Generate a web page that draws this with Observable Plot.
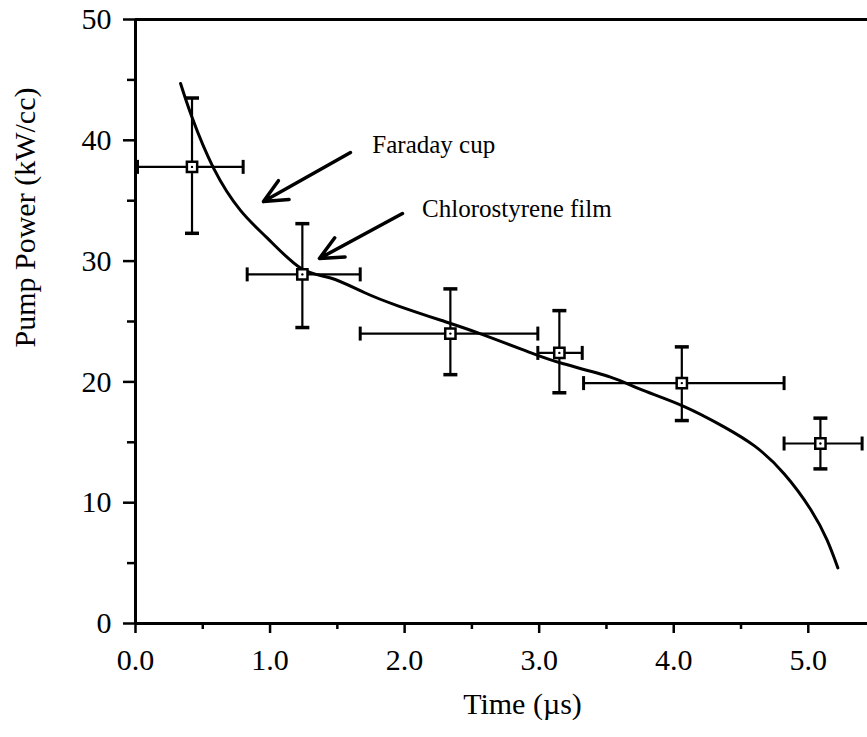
<!DOCTYPE html>
<html>
<head>
<meta charset="utf-8">
<script src="https://cdn.jsdelivr.net/npm/d3@7"></script>
<script src="https://cdn.jsdelivr.net/npm/@observablehq/plot@0.6"></script>
<style>
  html, body { margin: 0; padding: 0; background: white; }
</style>
</head>
<body>
<div id="chart"></div>
<script>
// Measured points
const timeUs    = [0.42, 1.24, 2.34, 3.15, 4.06, 5.09];
const pumpPower = [37.8, 28.9, 24.0, 22.4, 19.9, 14.9];
const powerLow  = [32.3, 24.5, 20.6, 19.1, 16.8, 12.8];
const powerHigh = [43.5, 33.1, 27.7, 25.9, 22.9, 17.0];
const timeLow   = [0.015, 0.83, 1.67, 2.99, 3.33, 4.82];
const timeHigh  = [0.80, 1.67, 2.99, 3.32, 4.82, 5.40];

// Fitted curve
const fitTime  = [0.335, 0.42, 0.58, 0.78, 0.98, 1.23, 1.45, 1.70, 1.95, 2.27, 2.56, 2.94, 3.18, 3.53, 3.75, 4.07, 4.37, 4.60, 4.82, 5.02, 5.14, 5.22];
const fitPower = [44.7, 41.9, 37.7, 34.2, 31.9, 29.4, 28.6, 27.4, 26.3, 25.1, 24.0, 22.4, 21.5, 20.4, 19.4, 18.0, 16.3, 14.7, 12.4, 9.4, 6.9, 4.6];

// Annotations
const annLabels = ["Faraday cup", "Chlorostyrene film"];
const annX = [1.76, 2.13];
const annY = [39.6, 34.3];
const arrowX1 = [1.598, 1.984];
const arrowY1 = [38.99, 33.94];
const arrowX2 = [0.951, 1.367];
const arrowY2 = [34.93, 30.22];

// Ticks
const xTicks = [0, 1, 2, 3, 4, 5];
const xMinor = [0.5, 1.5, 2.5, 3.5, 4.5];
const yTicks = [0, 10, 20, 30, 40, 50];
const yMinor = [5, 15, 25, 35, 45];
const xLabel = "Time (µs)";
const yLabel = "Pump Power (kW/cc)";

const idx = timeUs.map((_, i) => i);
const fitIdx = fitTime.map((_, i) => i);
const annIdx = annLabels.map((_, i) => i);

const vbar = { draw(ctx, size) { const r = Math.sqrt(size / Math.PI); ctx.moveTo(0, -r); ctx.lineTo(0, r); } };
const hbar = { draw(ctx, size) { const r = Math.sqrt(size / Math.PI); ctx.moveTo(-r, 0); ctx.lineTo(r, 0); } };

const chart = Plot.plot({
  width: 867,
  height: 737,
  marginLeft: 135,
  marginRight: 0,
  marginTop: 19,
  marginBottom: 114,
  x: { domain: [0, 5.44] },
  y: { domain: [0, 50] },
  style: { fontFamily: "'Liberation Serif', 'DejaVu Serif', serif", background: "white", color: "black" },
  marks: [
    Plot.ruleY([0, 50], { stroke: "black", strokeWidth: 3 }),
    Plot.ruleX([0], { stroke: "black", strokeWidth: 3 }),
    Plot.axisX(xTicks, { tickSize: 10, tickPadding: 15, fontSize: 30, strokeWidth: 2.5, tickFormat: d => d.toFixed(1), label: null }),
    Plot.axisX(xMinor, { tickSize: 6, strokeWidth: 2.5, tickFormat: () => "", label: null }),
    Plot.axisY(yTicks, { tickSize: 12, tickPadding: 12, fontSize: 30, strokeWidth: 2.5, label: null }),
    Plot.axisY(yMinor, { tickSize: 8, strokeWidth: 2.5, tickFormat: () => "", label: null }),
    Plot.text([xLabel], { frameAnchor: "bottom", dy: 81, dx: 21, fontSize: 30, lineAnchor: "middle", fill: "black" }),
    Plot.text([yLabel], { frameAnchor: "left", rotate: -90, dx: -110, dy: 26, fontSize: 30, lineAnchor: "middle", fill: "black" }),
    // fitted curve
    Plot.line(fitIdx, { x: fitTime, y: fitPower, curve: "natural", stroke: "black", strokeWidth: 3 }),
    // error bars
    Plot.ruleY(idx, { y: pumpPower, x1: timeLow, x2: timeHigh, stroke: "black", strokeWidth: 2.2 }),
    Plot.ruleX(idx, { x: timeUs, y1: powerLow, y2: powerHigh, stroke: "black", strokeWidth: 2.2 }),
    Plot.dot(idx, { x: timeLow, y: pumpPower, symbol: vbar, r: 7, fill: "none", stroke: "black", strokeWidth: 3 }),
    Plot.dot(idx, { x: timeHigh, y: pumpPower, symbol: vbar, r: 7, fill: "none", stroke: "black", strokeWidth: 3 }),
    Plot.dot(idx, { x: timeUs, y: powerLow, symbol: hbar, r: 7, fill: "none", stroke: "black", strokeWidth: 3.5 }),
    Plot.dot(idx, { x: timeUs, y: powerHigh, symbol: hbar, r: 7, fill: "none", stroke: "black", strokeWidth: 3.5 }),
    // markers
    Plot.dot(idx, { x: timeUs, y: pumpPower, symbol: "square", r: 5.8, fill: "white", stroke: "black", strokeWidth: 2.5 }),
    Plot.dot(idx, { x: timeUs, y: pumpPower, r: 1.2, fill: "black", stroke: "none" }),
    // annotations
    Plot.arrow(annIdx, { x1: arrowX1, y1: arrowY1, x2: arrowX2, y2: arrowY2, stroke: "black", strokeWidth: 3.5, headLength: 11, headAngle: 50 }),
    Plot.text(annIdx, { x: annX, y: annY, text: annLabels, textAnchor: "start", lineAnchor: "middle", fontSize: 25, fill: "black" })
  ]
});
document.getElementById("chart").appendChild(chart);
</script>
</body>
</html>
